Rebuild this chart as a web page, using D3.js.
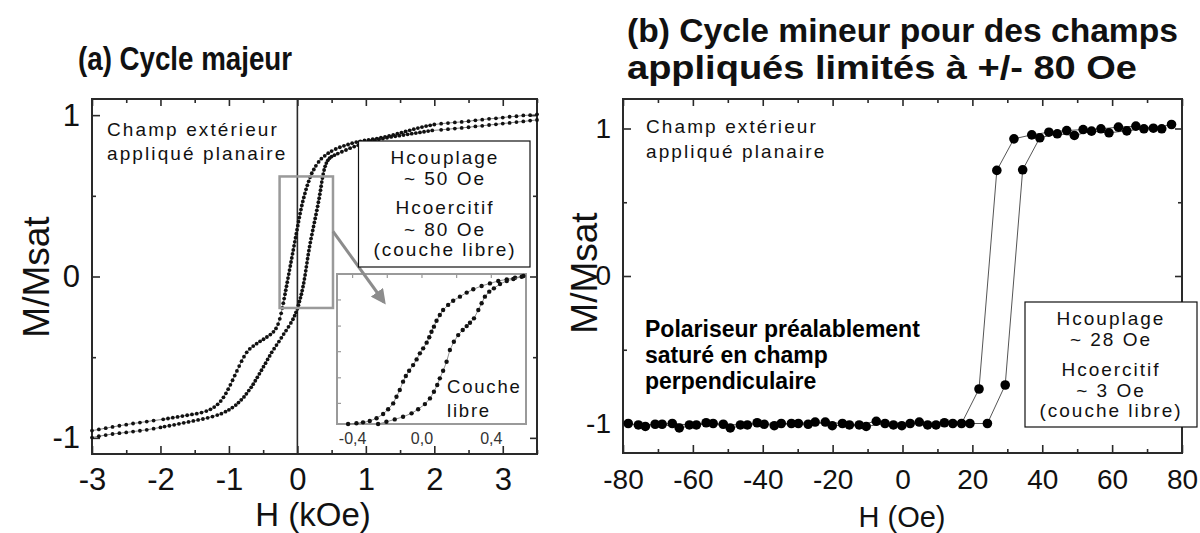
<!DOCTYPE html>
<html><head><meta charset="utf-8">
<script src="https://cdn.jsdelivr.net/npm/d3@7"></script>
<style>body{margin:0;background:#fff}svg{display:block}</style>
</head><body>
<svg id="c" width="1200" height="533"></svg>
<script>
// ---------- DATA ----------
// (a) major loop: descending branch (from +sat) and ascending branch, [H (kOe), M/Msat]
const majorDesc = [[3.5,1.005],[3.4,1.0],[3.3,0.998],[3.2,0.993],[3.1,0.99],[3.0,0.985],[2.9,0.98],[2.8,0.977],[2.7,0.972],[2.6,0.968],[2.5,0.962],[2.4,0.958],[2.3,0.955],[2.2,0.951],[2.1,0.947],
[2.0,0.942],[1.94,0.937],[1.88,0.932],[1.82,0.926],[1.76,0.92],[1.70,0.913],[1.64,0.906],[1.58,0.899],[1.52,0.892],[1.46,0.885],[1.40,0.878],[1.34,0.871],[1.28,0.865],[1.22,0.86],[1.16,0.855],[1.10,0.851],[1.04,0.847],[0.98,0.843],[0.92,0.838],[0.86,0.833],[0.80,0.826],[0.74,0.818],[0.68,0.81],[0.62,0.801],[0.56,0.79],[0.50,0.777],[0.45,0.764],[0.40,0.748],[0.35,0.73],[0.31,0.71],[0.27,0.686],[0.24,0.663],[0.21,0.64],[0.185,0.615],[0.165,0.59],[0.145,0.565],[0.127,0.54],[0.11,0.515],[0.094,0.49],[0.079,0.465],[0.065,0.44],[0.052,0.415],[0.04,0.39],[0.028,0.365],[0.017,0.34],[0.006,0.315],[-0.005,0.29],[-0.016,0.265],[-0.027,0.24],[-0.038,0.215],[-0.049,0.19],[-0.06,0.165],[-0.071,0.14],[-0.082,0.115],[-0.093,0.09],[-0.104,0.065],[-0.115,0.04],[-0.126,0.015],[-0.137,-0.01],[-0.148,-0.035],[-0.159,-0.06],[-0.17,-0.085],[-0.181,-0.11],[-0.193,-0.137],[-0.206,-0.165],[-0.22,-0.195],[-0.237,-0.228],[-0.257,-0.262],[-0.282,-0.295],[-0.312,-0.322],[-0.35,-0.343],[-0.395,-0.36],[-0.445,-0.375],[-0.495,-0.389],[-0.545,-0.402],[-0.595,-0.416],[-0.645,-0.431],[-0.695,-0.448],[-0.74,-0.47],[-0.78,-0.497],[-0.815,-0.525],[-0.85,-0.555],[-0.883,-0.585],[-0.915,-0.614],[-0.947,-0.643],[-0.979,-0.671],[-1.011,-0.698],[-1.044,-0.724],[-1.08,-0.749],[-1.12,-0.772],[-1.165,-0.792],[-1.215,-0.809],[-1.27,-0.823],[-1.33,-0.834],[-1.4,-0.843],[-1.47,-0.85],[-1.54,-0.855],[-1.61,-0.86],[-1.68,-0.865],[-1.75,-0.87],[-1.82,-0.875],[-1.89,-0.88],[-1.96,-0.885],[-2.1,-0.893],[-2.2,-0.899],[-2.3,-0.905],[-2.4,-0.911],[-2.5,-0.918],[-2.6,-0.925],[-2.7,-0.932],[-2.8,-0.94],[-2.9,-0.948],[-3.0,-0.955]];
const majorAsc = [[-3.0,-0.998],[-2.9,-0.99],[-2.8,-0.983],[-2.7,-0.976],[-2.6,-0.971],[-2.5,-0.966],[-2.4,-0.961],[-2.3,-0.956],[-2.2,-0.95],[-2.1,-0.943],[-2.0,-0.935],[-1.94,-0.93],[-1.87,-0.925],[-1.80,-0.919],[-1.73,-0.913],[-1.66,-0.907],[-1.59,-0.901],[-1.52,-0.895],[-1.45,-0.889],[-1.38,-0.883],[-1.31,-0.876],[-1.24,-0.868],[-1.17,-0.859],[-1.11,-0.85],[-1.05,-0.838],[-1.0,-0.826],[-0.95,-0.812],[-0.9,-0.797],[-0.86,-0.781],[-0.82,-0.764],[-0.78,-0.746],[-0.745,-0.727],[-0.71,-0.707],[-0.675,-0.687],[-0.645,-0.667],[-0.615,-0.646],[-0.585,-0.625],[-0.555,-0.603],[-0.525,-0.581],[-0.495,-0.559],[-0.465,-0.537],[-0.435,-0.514],[-0.405,-0.492],[-0.375,-0.47],[-0.34,-0.447],[-0.305,-0.425],[-0.27,-0.403],[-0.235,-0.38],[-0.2,-0.357],[-0.165,-0.335],[-0.13,-0.312],[-0.095,-0.288],[-0.065,-0.265],[-0.04,-0.243],[-0.02,-0.222],[0.0,-0.2],[0.015,-0.178],[0.03,-0.155],[0.045,-0.132],[0.058,-0.11],[0.07,-0.087],[0.082,-0.063],[0.093,-0.04],[0.103,-0.015],[0.113,0.01],[0.122,0.035],[0.131,0.06],[0.14,0.085],[0.149,0.11],[0.158,0.135],[0.168,0.16],[0.178,0.185],[0.189,0.21],[0.2,0.235],[0.212,0.26],[0.224,0.285],[0.236,0.31],[0.248,0.335],[0.26,0.36],[0.272,0.385],[0.284,0.41],[0.296,0.435],[0.307,0.46],[0.318,0.485],[0.328,0.51],[0.338,0.535],[0.347,0.56],[0.356,0.585],[0.366,0.61],[0.377,0.635],[0.39,0.66],[0.405,0.683],[0.423,0.703],[0.445,0.72],[0.47,0.733],[0.5,0.743],[0.54,0.752],[0.59,0.762],[0.65,0.773],[0.71,0.784],[0.77,0.795],[0.83,0.805],[0.89,0.814],[0.95,0.822],[1.01,0.83],[1.07,0.837],[1.13,0.844],[1.19,0.85],[1.25,0.855],[1.31,0.86],[1.37,0.865],[1.43,0.869],[1.49,0.873],[1.55,0.877],[1.61,0.881],[1.67,0.885],[1.73,0.889],[1.79,0.893],[1.85,0.897],[1.91,0.901],[1.97,0.905],[2.1,0.909],[2.2,0.913],[2.3,0.917],[2.4,0.921],[2.5,0.925],[2.6,0.93],[2.7,0.934],[2.8,0.939],[2.9,0.943],[3.0,0.948],[3.1,0.952],[3.2,0.957],[3.3,0.961],[3.4,0.966],[3.5,0.97]];

// (a) inset: free-layer loop, [H (kOe), M/Msat]
const insetDesc = [[0.585,0.609],[0.537,0.6],[0.489,0.591],[0.44,0.582],[0.392,0.569],[0.344,0.555],[0.296,0.537],[0.258,0.519],[0.219,0.497],[0.18,0.475],[0.151,0.452],[0.122,0.424],[0.103,0.397],[0.084,0.366],[0.069,0.334],[0.055,0.306],[0.042,0.276],[0.027,0.247],[0.007,0.216],[-0.012,0.189],[-0.031,0.156],[-0.051,0.125],[-0.074,0.094],[-0.093,0.066],[-0.109,0.035],[-0.128,-0.01],[-0.147,-0.047],[-0.166,-0.083],[-0.195,-0.115],[-0.224,-0.141],[-0.262,-0.164],[-0.301,-0.179],[-0.34,-0.186],[-0.378,-0.191],[-0.426,-0.195]];
const insetAsc = [[-0.253,-0.195],[-0.205,-0.183],[-0.157,-0.17],[-0.109,-0.156],[-0.06,-0.137],[-0.022,-0.115],[0.017,-0.087],[0.046,-0.056],[0.069,-0.02],[0.088,0.017],[0.103,0.053],[0.122,0.094],[0.142,0.143],[0.161,0.207],[0.184,0.252],[0.209,0.288],[0.235,0.316],[0.258,0.337],[0.277,0.355],[0.3,0.379],[0.325,0.424],[0.344,0.461],[0.363,0.497],[0.388,0.524],[0.415,0.542],[0.45,0.566],[0.489,0.582],[0.527,0.593],[0.575,0.605]];

// (b) minor loop, [H (Oe), M/Msat]
const minorDesc = [[77.0,1.027],[71.8,1.002],[66.8,1.016],[61.8,1.009],[56.8,0.998],[51.7,0.993],[47.0,0.986],[41.9,0.975],[37.0,0.957],[31.9,0.93],[27.0,0.716],[21.9,-0.766],[16.9,-1.0],[12.0,-0.995],[7.2,-1.01],[2.2,-1.0],[-2.6,-1.01],[-7.5,-0.985],[-12.4,-1.01],[-17.2,-1.0],[-22.1,-0.99],[-27.0,-1.005],[-31.8,-1.0],[-36.7,-1.015],[-41.6,-0.995],[-46.4,-1.01],[-51.3,-1.005],[-56.2,-0.995],[-61.0,-1.01],[-65.9,-1.0],[-70.8,-1.005],[-75.6,-1.01]];
const minorAsc = [[-78.5,-1.0],[-73.6,-1.02],[-68.8,-1.005],[-63.9,-1.03],[-59.0,-1.01],[-54.2,-1.0],[-49.3,-1.03],[-44.4,-1.01],[-39.6,-1.005],[-34.7,-1.0],[-29.8,-1.0],[-25.0,-0.99],[-20.1,-1.015],[-15.2,-1.01],[-10.4,-1.02],[-5.0,-1.0],[-0.2,-1.015],[4.8,-0.99],[9.6,-1.01],[14.4,-1.0],[19.3,-1.0],[24.3,-1.0],[29.4,-0.739],[34.4,0.72],[39.3,0.937],[44.3,0.964],[49.2,0.953],[54.1,0.982],[59.1,0.971],[64.2,0.984],[69.1,0.998],[74.2,0.998]];

// ticks
const xMajorA = [-3,-2,-1,0,1,2,3];
const xMinorA = [-2.5,-1.5,-0.5,0.5,1.5,2.5,3.5];
const yMajorA = [-1,0,1];
const yMinorA = [-0.5,0.5];
const xMajorB = [-80,-60,-40,-20,0,20,40,60,80];
const xMinorB = [-70,-50,-30,-10,10,30,50,70];
const yMajorB = [-1,0,1];
const yMinorB = [-0.5,0.5];
const insetXTicks = [-0.4,0.0,0.4];
const insetXTickLabels = ["-0,4","0,0","0,4"];
const insetXMinor = [-0.2,0.2];
const insetYTicks = [-0.083,0.056,0.198,0.337,0.479];
const insetBox = {h0:-0.26, h1:0.52, m0:-0.195, m1:0.62}; // zoom window drawn on (a)

// texts
const titleA = "(a) Cycle majeur";
const titleB = ["(b) Cycle mineur pour des champs","appliqués limités à +/- 80 Oe"];
const noteField = ["Champ extérieur","appliqué planaire"];
const boxA = ["Hcouplage","~ 50 Oe","Hcoercitif","~ 80 Oe","(couche libre)"];
const boxB = ["Hcouplage","~ 28 Oe","Hcoercitif","~ 3 Oe","(couche libre)"];
const notePol = ["Polariseur préalablement","saturé en champ","perpendiculaire"];
const insetNote = ["Couche","libre"];

// ---------- DRAW ----------
const FONT = "'Liberation Sans', Arial, Helvetica, sans-serif";
const svg = d3.select("#c").style("font-family", FONT);
const AX = "#2a2a2a";
const fmtInt = d => String(d);

const xA = d3.scaleLinear().domain([-3,3.5]).range([92,537]);
const yA = d3.scaleLinear().domain([-1.1,1.1]).range([454,99]);
const xB = d3.scaleLinear().domain([-80,80]).range([623,1182]);
const yB = d3.scaleLinear().domain([-1.2,1.2]).range([453,99]);
const xI = d3.scaleLinear().domain([-0.49,0.6]).range([337,526]);
const yI = d3.scaleLinear().domain([-0.195,0.62]).range([424,274]);

function frame(x, y, o){
  const g = svg.append("g");
  const [x0,x1] = x.range(), [y1,y0] = y.range();
  const mk = (axis, tr, ticks, size, fmt) => {
    const a = g.append("g").attr("transform", tr)
      .call(axis.tickValues(ticks).tickSize(size).tickPadding(o.pad).tickFormat(fmt));
    a.select(".domain").remove();
    a.selectAll("line").attr("stroke", AX).attr("stroke-width", 1.6);
    return a;
  };
  const none = () => "";
  mk(d3.axisBottom(x), `translate(0,${y1})`, o.xMin, -4, none);
  const bx = mk(d3.axisBottom(x), `translate(0,${y1})`, o.xMaj, -8, fmtInt);
  bx.selectAll("text").attr("font-size", o.fs).attr("font-family", FONT).attr("fill","#111").attr("y", o.xLabY);
  mk(d3.axisTop(x), `translate(0,${y0})`, o.xMin, -4, none);
  mk(d3.axisTop(x), `translate(0,${y0})`, o.xMaj, -7, none);
  mk(d3.axisLeft(y), `translate(${x0},0)`, o.yMin, -4, none);
  const ly = mk(d3.axisLeft(y), `translate(${x0},0)`, o.yMaj, -8, fmtInt);
  ly.selectAll("text").attr("font-size", o.fs).attr("font-family", FONT).attr("fill","#111").attr("x", -o.yLabX);
  mk(d3.axisRight(y), `translate(${x1},0)`, o.yMin, -4, none);
  mk(d3.axisRight(y), `translate(${x1},0)`, o.yMaj, -7, none);
  g.append("rect").attr("x",x0).attr("y",y0).attr("width",x1-x0).attr("height",y1-y0)
    .attr("fill","none").attr("stroke",AX).attr("stroke-width",2);
  return g;
}

// ---- panel (a)
frame(xA, yA, {xMaj:xMajorA, xMin:xMinorA, yMaj:yMajorA, yMin:yMinorA, fs:31, pad:12, xLabY:14, yLabX:12});
svg.append("line").attr("x1",xA(0)).attr("x2",xA(0)).attr("y1",yA.range()[1]).attr("y2",yA.range()[0])
  .attr("stroke",AX).attr("stroke-width",1.6);

const lineA = d3.line().x(d=>xA(d[0])).y(d=>yA(d[1]));
[majorDesc, majorAsc].forEach(s=>{
  svg.append("path").attr("d",lineA(s)).attr("fill","none").attr("stroke","#666").attr("stroke-width",0.8);
  svg.append("g").selectAll("circle").data(s).join("circle")
    .attr("cx",d=>xA(d[0])).attr("cy",d=>yA(d[1])).attr("r",1.9).attr("fill","#111");
});

// gray zoom box
svg.append("rect").attr("x",xA(insetBox.h0)).attr("y",yA(insetBox.m1))
  .attr("width",xA(insetBox.h1)-xA(insetBox.h0)).attr("height",yA(insetBox.m0)-yA(insetBox.m1))
  .attr("fill","none").attr("stroke","#9a9a9a").attr("stroke-width",2.5);

// inset
const [ix0,ix1] = xI.range(), [iy1,iy0] = yI.range();
svg.append("rect").attr("x",ix0).attr("y",iy0).attr("width",ix1-ix0).attr("height",iy1-iy0)
  .attr("fill","#fff").attr("stroke","#9a9a9a").attr("stroke-width",2);
const gi = svg.append("g");
gi.selectAll("line.tt").data(insetXTicks.concat(insetXMinor)).join("line")
  .attr("x1",d=>xI(d)).attr("x2",d=>xI(d)).attr("y1",iy0).attr("y2",iy0+4).attr("stroke","#9a9a9a").attr("stroke-width",1.2);
gi.selectAll("line.ty").data(insetYTicks).join("line")
  .attr("x1",ix0).attr("x2",ix0+4).attr("y1",d=>yI(d)).attr("y2",d=>yI(d)).attr("stroke","#9a9a9a").attr("stroke-width",1.2);
gi.selectAll("text").data(insetXTicks).join("text")
  .attr("x",d=>xI(d)).attr("y",iy1+20).attr("text-anchor","middle")
  .attr("font-size",16).attr("fill","#333").text((d,i)=>insetXTickLabels[i]);
const lineI = d3.line().x(d=>xI(d[0])).y(d=>yI(d[1]));
[insetDesc, insetAsc].forEach(s=>{
  gi.append("path").attr("d",lineI(s)).attr("fill","none").attr("stroke","#777").attr("stroke-width",0.8);
  gi.append("g").selectAll("circle").data(s).join("circle")
    .attr("cx",d=>xI(d[0])).attr("cy",d=>yI(d[1])).attr("r",2.2).attr("fill","#111");
});
gi.selectAll("text.note").data(insetNote).join("text").attr("class","note")
  .attr("x",447).attr("y",(d,i)=>393+i*24).attr("font-size",18.5).attr("letter-spacing",1.8).attr("fill","#111").text(d=>d);

// arrow
const defs = svg.append("defs");
defs.append("marker").attr("id","ah").attr("viewBox","0 0 10 10").attr("refX",8).attr("refY",5)
  .attr("markerWidth",5).attr("markerHeight",5).attr("orient","auto")
  .append("path").attr("d","M0,0L10,5L0,10z").attr("fill","#8c8c8c");
svg.append("line").attr("x1",xA(insetBox.h1)).attr("y1",yA(0.28)).attr("x2",384).attr("y2",302)
  .attr("stroke","#8c8c8c").attr("stroke-width",3).attr("marker-end","url(#ah)");

// text box (a)
svg.append("rect").attr("x",358.5).attr("y",141).attr("width",171.5).attr("height",126)
  .attr("fill","#fff").attr("stroke","#111").attr("stroke-width",1.2);
const boxYs = [164,185,213.5,236,256];
svg.append("g").selectAll("text").data(boxA).join("text")
  .attr("x",445).attr("y",(d,i)=>boxYs[i]).attr("text-anchor","middle")
  .attr("font-size",19).attr("letter-spacing",2).attr("fill","#111").text(d=>d);

// notes (a)
svg.append("g").selectAll("text").data(noteField).join("text")
  .attr("x",107).attr("y",(d,i)=>136+i*24).attr("font-size",19).attr("letter-spacing",2.1).attr("fill","#111").text(d=>d);

// titles / labels (a)
svg.append("text").attr("x",78).attr("y",70).attr("font-size",33).attr("font-weight","bold").attr("fill","#111")
  .attr("textLength",214).attr("lengthAdjust","spacingAndGlyphs").text(titleA);
svg.append("text").attr("x",313).attr("y",526).attr("text-anchor","middle").attr("font-size",33).attr("fill","#111").text("H (kOe)");
svg.append("text").attr("transform","translate(49,277) rotate(-90)").attr("text-anchor","middle").attr("font-size",37).attr("fill","#111").text("M/Msat");

// ---- panel (b)
frame(xB, yB, {xMaj:xMajorB, xMin:xMinorB, yMaj:yMajorB, yMin:yMinorB, fs:28, pad:12, xLabY:16, yLabX:12});
const lineB = d3.line().x(d=>xB(d[0])).y(d=>yB(d[1]));
[minorDesc, minorAsc].forEach(s=>{
  svg.append("path").attr("d",lineB(s)).attr("fill","none").attr("stroke","#555").attr("stroke-width",1);
});
[minorDesc, minorAsc].forEach(s=>{
  svg.append("g").selectAll("circle").data(s).join("circle")
    .attr("cx",d=>xB(d[0])).attr("cy",d=>yB(d[1])).attr("r",4.8).attr("fill","#000");
});
svg.append("g").selectAll("text").data(noteField).join("text")
  .attr("x",646).attr("y",(d,i)=>133+i*25).attr("font-size",19).attr("letter-spacing",2.1).attr("fill","#111").text(d=>d);
svg.append("g").selectAll("text").data(notePol).join("text")
  .attr("x",645).attr("y",(d,i)=>337+i*26).attr("font-size",23).attr("font-weight","bold").attr("fill","#000").text(d=>d);
svg.append("rect").attr("x",1025).attr("y",302).attr("width",172).attr("height",125)
  .attr("fill","#fff").attr("stroke","#111").attr("stroke-width",1.2);
const boxBYs = [325,346,376,396.5,417];
svg.append("g").selectAll("text").data(boxB).join("text")
  .attr("x",1111).attr("y",(d,i)=>boxBYs[i]).attr("text-anchor","middle")
  .attr("font-size",19).attr("letter-spacing",2).attr("fill","#111").text(d=>d);
const titleBLen = [551, 510];
svg.append("g").selectAll("text").data(titleB).join("text")
  .attr("x",627).attr("y",(d,i)=>42+i*37).attr("font-size",33).attr("font-weight","bold").attr("fill","#111")
  .attr("textLength",(d,i)=>titleBLen[i]).attr("lengthAdjust","spacingAndGlyphs").text(d=>d);
svg.append("text").attr("x",902).attr("y",527).attr("text-anchor","middle").attr("font-size",29).attr("fill","#111").text("H (Oe)");
svg.append("text").attr("transform","translate(597,273) rotate(-90)").attr("text-anchor","middle").attr("font-size",37).attr("fill","#111").text("M/Msat");
</script>
</body></html>
